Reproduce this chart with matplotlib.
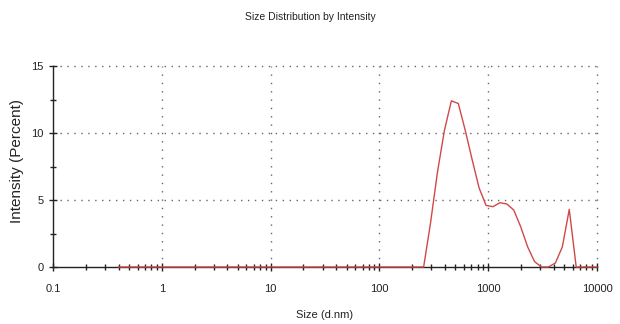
import matplotlib
matplotlib.use("Agg")
import matplotlib.pyplot as plt
from matplotlib.ticker import FixedLocator, NullFormatter

sizes = [0.4, 190.1, 220.2, 255.0, 295.3, 342.0, 396.1, 458.7, 531.2, 615.1, 712.4,
         825.0, 955.4, 1106, 1281, 1484, 1718, 1990, 2305, 2669, 3091, 3580,
         4145, 4801, 5560, 6439, 7456, 8635, 10000]
intensity = [0, 0, 0, 0, 3.3, 7.1, 10.2, 12.4, 12.2, 10.2, 8.0,
             5.9, 4.6, 4.5, 4.8, 4.7, 4.25, 3.0, 1.5, 0.4, 0, 0,
             0.3, 1.5, 4.3, 0, 0, 0, 0]
x_ticks = [0.1, 1, 10, 100, 1000, 10000]
x_labels = ["0.1", "1", "10", "100", "1000", "10000"]
y_ticks = [0, 5, 10, 15]

plt.rcParams['font.family'] = ['Liberation Sans Narrow', 'Liberation Sans', 'DejaVu Sans']

fig = plt.figure(figsize=(6.2, 3.24), dpi=100)
ax = fig.add_axes([53/620, 1-267/324, (597-53)/620, (267-66)/324])

ax.set_xscale('log')
ax.set_xlim(0.1, 10000)
ax.set_ylim(0, 15)

ax.plot(sizes, intensity, color='#d04848', lw=1.0, zorder=5, clip_on=False)

ax.set_xticks(x_ticks)
ax.set_xticklabels(x_labels)
ax.set_yticks(y_ticks)
minor_x = [m * d for d in [0.1, 1, 10, 100, 1000] for m in range(2, 10)]
ax.xaxis.set_minor_locator(FixedLocator(minor_x))
ax.xaxis.set_minor_formatter(NullFormatter())
ax.yaxis.set_minor_locator(FixedLocator([2.5, 7.5, 12.5]))

ax.tick_params(axis='both', which='major', direction='inout', length=6, width=1,
               labelsize=8, colors='#222222')
ax.tick_params(axis='both', which='minor', direction='inout', length=5, width=1,
               colors='#222222')
ax.tick_params(axis='x', pad=9)
ax.tick_params(axis='y', pad=4)

for s in ['top', 'right']:
    ax.spines[s].set_visible(False)
for s in ['left', 'bottom']:
    ax.spines[s].set_color('#222222')
    ax.spines[s].set_linewidth(1.0)

for y in [5, 10, 15]:
    ax.axhline(y, color='#666666', lw=1.0, ls=(0, (1, 4)), zorder=1, clip_on=False)
for x in [1, 10, 100, 1000, 10000]:
    ax.axvline(x, color='#666666', lw=1.0, ls=(0, (1, 5)), zorder=1, clip_on=False)

ax.set_xlabel("Size (d.nm)", fontsize=8, color='#222222')
ax.xaxis.set_label_coords(0.5, (267-310)/201)
ax.set_ylabel("Intensity (Percent)", fontsize=11, color='#222222')
ax.yaxis.set_label_coords((24-53)/544, (267-161)/201)
fig.text(310/620, 1-17/324, "Size Distribution by Intensity", ha='center', va='center',
         fontsize=7.5, color='#222222')

fig.savefig("out.png", dpi=100)
